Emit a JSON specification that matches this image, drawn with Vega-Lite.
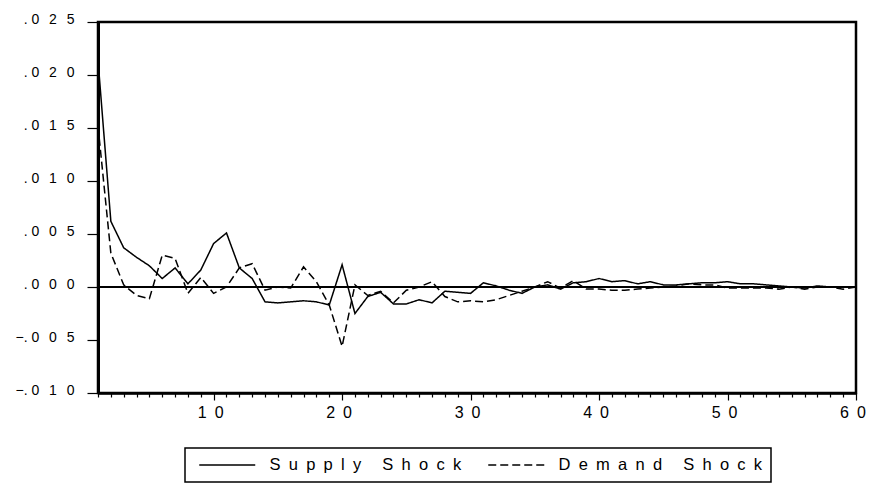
{
  "$schema": "https://vega.github.io/schema/vega-lite/v6.json",
  "width": 758,
  "height": 371,
  "autosize": {"type": "none"},
  "padding": {"left": 98, "top": 22, "right": 16, "bottom": 91},
  "background": "white",
  "config": {
    "font": "Liberation Sans",
    "view": {"stroke": "black", "strokeWidth": 2.5},
    "axis": {"grid": false, "domainColor": "black", "tickColor": "black", "labelColor": "black", "labelFont": "Liberation Sans"},
    "legend": {"labelFont": "Liberation Sans"}
  },
  "data": {
    "values": [
      {"t":1,"s":"Supply Shock","v":0.0214},{"t":2,"s":"Supply Shock","v":0.0062},{"t":3,"s":"Supply Shock","v":0.0037},{"t":4,"s":"Supply Shock","v":0.0028},{"t":5,"s":"Supply Shock","v":0.0020},
      {"t":6,"s":"Supply Shock","v":0.0008},{"t":7,"s":"Supply Shock","v":0.0018},{"t":8,"s":"Supply Shock","v":0.0003},{"t":9,"s":"Supply Shock","v":0.0016},{"t":10,"s":"Supply Shock","v":0.0041},
      {"t":11,"s":"Supply Shock","v":0.0051},{"t":12,"s":"Supply Shock","v":0.0018},{"t":13,"s":"Supply Shock","v":0.0008},{"t":14,"s":"Supply Shock","v":-0.0014},{"t":15,"s":"Supply Shock","v":-0.0015},
      {"t":16,"s":"Supply Shock","v":-0.0014},{"t":17,"s":"Supply Shock","v":-0.0013},{"t":18,"s":"Supply Shock","v":-0.0014},{"t":19,"s":"Supply Shock","v":-0.0017},{"t":20,"s":"Supply Shock","v":0.0021},
      {"t":21,"s":"Supply Shock","v":-0.0025},{"t":22,"s":"Supply Shock","v":-0.0009},{"t":23,"s":"Supply Shock","v":-0.0005},{"t":24,"s":"Supply Shock","v":-0.0016},{"t":25,"s":"Supply Shock","v":-0.0016},
      {"t":26,"s":"Supply Shock","v":-0.0012},{"t":27,"s":"Supply Shock","v":-0.0015},{"t":28,"s":"Supply Shock","v":-0.0004},{"t":29,"s":"Supply Shock","v":-0.0005},{"t":30,"s":"Supply Shock","v":-0.0006},
      {"t":31,"s":"Supply Shock","v":0.0004},{"t":32,"s":"Supply Shock","v":0.0001},{"t":33,"s":"Supply Shock","v":-0.0003},{"t":34,"s":"Supply Shock","v":-0.0006},{"t":35,"s":"Supply Shock","v":0.0000},
      {"t":36,"s":"Supply Shock","v":0.0002},{"t":37,"s":"Supply Shock","v":-0.0002},{"t":38,"s":"Supply Shock","v":0.0004},{"t":39,"s":"Supply Shock","v":0.0005},{"t":40,"s":"Supply Shock","v":0.0008},
      {"t":41,"s":"Supply Shock","v":0.0005},{"t":42,"s":"Supply Shock","v":0.0006},{"t":43,"s":"Supply Shock","v":0.0003},{"t":44,"s":"Supply Shock","v":0.0005},{"t":45,"s":"Supply Shock","v":0.0002},
      {"t":46,"s":"Supply Shock","v":0.0002},{"t":47,"s":"Supply Shock","v":0.0003},{"t":48,"s":"Supply Shock","v":0.0004},{"t":49,"s":"Supply Shock","v":0.0004},{"t":50,"s":"Supply Shock","v":0.0005},
      {"t":51,"s":"Supply Shock","v":0.0003},{"t":52,"s":"Supply Shock","v":0.0003},{"t":53,"s":"Supply Shock","v":0.0002},{"t":54,"s":"Supply Shock","v":0.0001},{"t":55,"s":"Supply Shock","v":0.0000},
      {"t":56,"s":"Supply Shock","v":-0.0001},{"t":57,"s":"Supply Shock","v":0.0001},{"t":58,"s":"Supply Shock","v":0.0000},{"t":59,"s":"Supply Shock","v":0.0000},{"t":60,"s":"Supply Shock","v":0.0000},
      {"t":1,"s":"Demand Shock","v":0.0152},{"t":2,"s":"Demand Shock","v":0.0032},{"t":3,"s":"Demand Shock","v":0.0002},{"t":4,"s":"Demand Shock","v":-0.0008},{"t":5,"s":"Demand Shock","v":-0.0011},
      {"t":6,"s":"Demand Shock","v":0.0030},{"t":7,"s":"Demand Shock","v":0.0027},{"t":8,"s":"Demand Shock","v":-0.0006},{"t":9,"s":"Demand Shock","v":0.0009},{"t":10,"s":"Demand Shock","v":-0.0006},
      {"t":11,"s":"Demand Shock","v":0.0000},{"t":12,"s":"Demand Shock","v":0.0018},{"t":13,"s":"Demand Shock","v":0.0022},{"t":14,"s":"Demand Shock","v":-0.0003},{"t":15,"s":"Demand Shock","v":0.0000},
      {"t":16,"s":"Demand Shock","v":-0.0001},{"t":17,"s":"Demand Shock","v":0.0019},{"t":18,"s":"Demand Shock","v":0.0005},{"t":19,"s":"Demand Shock","v":-0.0017},{"t":20,"s":"Demand Shock","v":-0.0056},
      {"t":21,"s":"Demand Shock","v":0.0002},{"t":22,"s":"Demand Shock","v":-0.0008},{"t":23,"s":"Demand Shock","v":-0.0004},{"t":24,"s":"Demand Shock","v":-0.0015},{"t":25,"s":"Demand Shock","v":-0.0003},
      {"t":26,"s":"Demand Shock","v":0.0000},{"t":27,"s":"Demand Shock","v":0.0005},{"t":28,"s":"Demand Shock","v":-0.0009},{"t":29,"s":"Demand Shock","v":-0.0014},{"t":30,"s":"Demand Shock","v":-0.0013},
      {"t":31,"s":"Demand Shock","v":-0.0014},{"t":32,"s":"Demand Shock","v":-0.0012},{"t":33,"s":"Demand Shock","v":-0.0008},{"t":34,"s":"Demand Shock","v":-0.0004},{"t":35,"s":"Demand Shock","v":0.0000},
      {"t":36,"s":"Demand Shock","v":0.0005},{"t":37,"s":"Demand Shock","v":-0.0001},{"t":38,"s":"Demand Shock","v":0.0006},{"t":39,"s":"Demand Shock","v":-0.0002},{"t":40,"s":"Demand Shock","v":-0.0002},
      {"t":41,"s":"Demand Shock","v":-0.0003},{"t":42,"s":"Demand Shock","v":-0.0003},{"t":43,"s":"Demand Shock","v":-0.0002},{"t":44,"s":"Demand Shock","v":-0.0001},{"t":45,"s":"Demand Shock","v":0.0000},
      {"t":46,"s":"Demand Shock","v":0.0001},{"t":47,"s":"Demand Shock","v":0.0003},{"t":48,"s":"Demand Shock","v":0.0002},{"t":49,"s":"Demand Shock","v":0.0002},{"t":50,"s":"Demand Shock","v":-0.0001},
      {"t":51,"s":"Demand Shock","v":-0.0001},{"t":52,"s":"Demand Shock","v":-0.0001},{"t":53,"s":"Demand Shock","v":-0.0001},{"t":54,"s":"Demand Shock","v":-0.0002},{"t":55,"s":"Demand Shock","v":0.0000},
      {"t":56,"s":"Demand Shock","v":-0.0002},{"t":57,"s":"Demand Shock","v":0.0000},{"t":58,"s":"Demand Shock","v":0.0000},{"t":59,"s":"Demand Shock","v":-0.0002},{"t":60,"s":"Demand Shock","v":0.0000}
    ]
  },
  "layer": [
    {
      "mark": {"type": "rule", "color": "black", "strokeWidth": 1},
      "encoding": {"y": {"datum": 0, "type": "quantitative"}}
    },
    {
      "mark": {"type": "line", "color": "black", "strokeWidth": 1.5},
      "encoding": {
        "x": {
          "field": "t", "type": "quantitative",
          "scale": {"domain": [1, 60], "nice": false, "zero": false},
          "axis": {
            "title": null,
            "values": [1,2,3,4,5,6,7,8,9,10,11,12,13,14,15,16,17,18,19,20,21,22,23,24,25,26,27,28,29,30,31,32,33,34,35,36,37,38,39,40,41,42,43,44,45,46,47,48,49,50,51,52,53,54,55,56,57,58,59,60],
            "domainWidth": 2.5,
            "tickWidth": 1.2,
            "tickSize": {"condition": {"test": "datum.value % 10 === 0", "value": 7}, "value": 4},
            "labelExpr": "datum.value % 10 === 0 ? replace(format(datum.value, 'd'), regexp('([0-9])(?=[0-9])', 'g'), '$1\u2002') : ''",
            "labelOverlap": false,
            "labelFlush": false,
            "labelBound": false,
            "labelFontSize": 16,
            "labelPadding": 4,
            "labelOffset": -3.5
          }
        },
        "y": {
          "field": "v", "type": "quantitative",
          "scale": {"domain": [-0.01, 0.025], "nice": false},
          "axis": {
            "title": null,
            "values": [-0.01, -0.005, 0, 0.005, 0.01, 0.015, 0.02, 0.025],
            "domainWidth": 3,
            "tickWidth": 1.2,
            "tickSize": 11,
            "labelExpr": "replace(replace(replace(format(datum.value, '.3f'), '0.', '.'), regexp('([0-9])(?=[0-9])', 'g'), '$1\u2002\u2009'), regexp('([.-])', 'g'), '$1\u00A0')",
            "labelFontSize": 14,
            "labelPadding": 13,
            "labelBaseline": "alphabetic",
            "labelOffset": 1,
            "labelOverlap": false,
            "labelFlush": false,
            "labelBound": false
          }
        },
        "strokeDash": {
          "field": "s", "type": "nominal",
          "scale": {"domain": ["Supply Shock", "Demand Shock"], "range": [[1, 0], [8, 4]]},
          "legend": {
            "title": null,
            "orient": "none",
            "direction": "horizontal",
            "legendX": 87,
            "legendY": 426,
            "strokeColor": "black",
            "padding": 8,
            "symbolType": "M-4,0H4",
            "symbolSize": 196,
            "symbolOffset": 26,
            "symbolStrokeColor": "black",
            "symbolStrokeWidth": 1.3,
            "labelOffset": 34,
            "labelFontSize": 16.5,
            "labelColor": "black",
            "labelLimit": 400,
            "clipHeight": 18,
            "columnPadding": 20,
            "labelExpr": "replace(datum.label, regexp('(.)(?!$)', 'g'), '$1\u2002')",
            "encode": {"legend": {"update": {"strokeWidth": {"value": 1.5}}}}
          }
        }
      }
    }
  ]
}
